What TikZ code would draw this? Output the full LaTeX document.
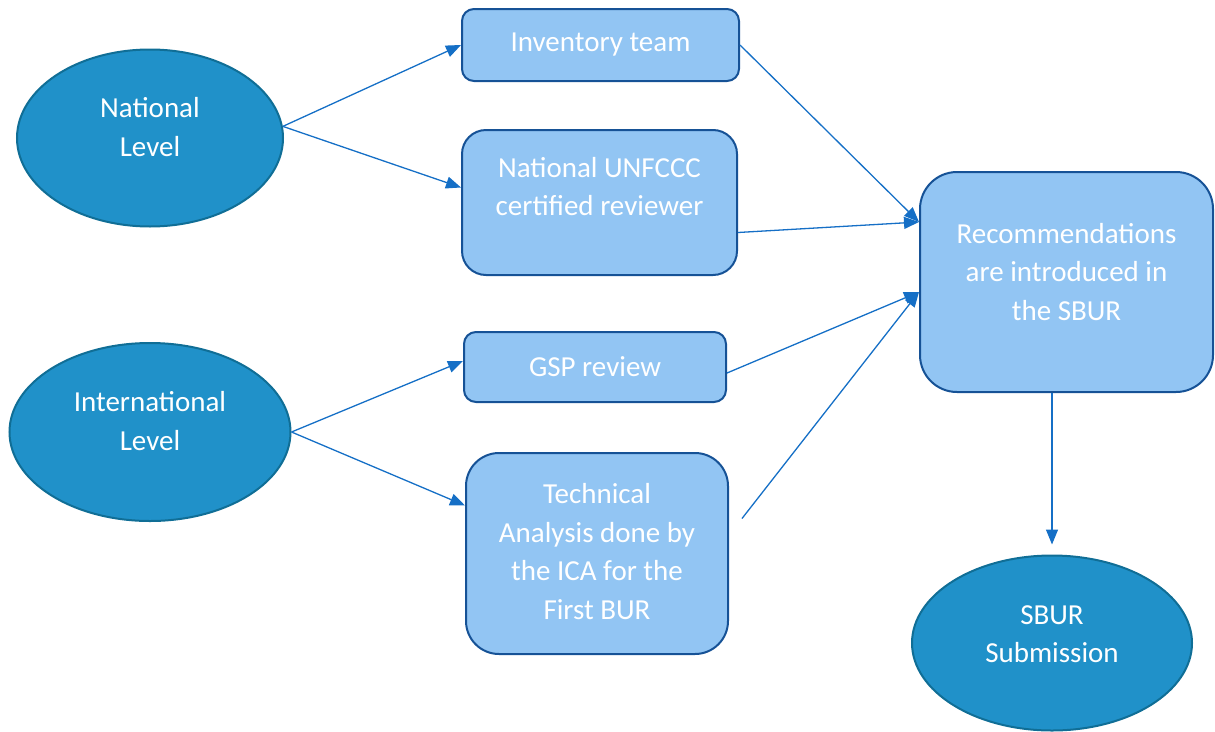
\documentclass[tikz,border=0pt]{standalone}
\usepackage{fontspec}
\setmainfont{Carlito}
\usetikzlibrary{positioning}
\usetikzlibrary{shapes.geometric}
\usetikzlibrary{arrows.meta}
\definecolor{levelfill}{RGB}{32,145,201}
\definecolor{leveldraw}{RGB}{16,110,150}
\definecolor{stagefill}{RGB}{146,197,243}
\definecolor{stagedraw}{RGB}{22,82,150}
\definecolor{flowline}{RGB}{21,111,198}
\tikzset{every node/.style={ % Sets the properties for each node and label
           align=center,
           text=white,
           font=\fontsize{29}{38.5}\selectfont},
         level/.style={ % Ellipses for the levels and the submission
           ellipse, draw=leveldraw, fill=levelfill,
           line width=2pt, inner sep=0pt},
         stage/.style={ % Boxes for the review steps
           rectangle, draw=stagedraw, fill=stagefill,
           line width=2pt, inner sep=0pt},
         every edge/.style={ % Sets the properties for each connector
           draw=flowline, line width=1.3pt,
           -{Triangle[length=15pt,width=12pt]}}}

\begin{document}
\begin{tikzpicture}[x=1pt, y=-1pt] % one unit is one pixel, y going down
  \useasboundingbox (0,0) rectangle (1215,731);

  \node [level, minimum width=266, minimum height=177,
    label={[yshift=11pt]center:National\\Level}] (national) at (150,138) {};
  \node [level, minimum width=281, minimum height=178,
    label={[yshift=11pt]center:International\\Level}] (intl) at (150,432) {};

  \node [stage, minimum width=277, minimum height=72, rounded corners=12pt,
    label={center:Inventory team}] (inventory) at (600.5,45) {};
  \node [stage, minimum width=275, minimum height=145, rounded corners=24pt,
    label={[yshift=16pt]center:National UNFCCC\\certified reviewer}] (unfccc) at (599.5,202.5) {};
  \node [stage, minimum width=262, minimum height=70, rounded corners=12pt,
    label={center:GSP review}] (gsp) at (595,367) {};
  \node [stage, minimum width=262, minimum height=201, rounded corners=33pt,
    label={[yshift=2pt]center:Technical\\Analysis done by\\the ICA for the\\First BUR}] (tech) at (597,553.5) {};

  \node [stage, minimum width=293, minimum height=220, rounded corners=37pt,
    label={[yshift=10pt]center:Recommendations\\are introduced in\\the SBUR}] (rec) at (1066.5,282) {};
  \node [level, minimum width=280, minimum height=175,
    label={[yshift=9pt]center:SBUR\\Submission}] (sbur) at (1052,643) {};

  \draw (national.5) edge (inventory.west);
  \draw (national.5) edge ([yshift=15pt]unfccc.west);

  \draw (intl.east) edge ([yshift=6pt]gsp.west);
  \draw (intl.east) edge ([yshift=48pt]tech.west);

  \draw (inventory.east) edge ([yshift=60pt]rec.west);
  \draw ([yshift=-30pt]unfccc.east) edge ([yshift=60pt]rec.west);
  \draw ([yshift=-6pt]gsp.east) edge ([yshift=-10pt]rec.west);
  \draw ([shift={(13pt,35pt)}]tech.east) edge ([yshift=-10pt]rec.west);

  \draw (rec.south -| sbur.north) edge ([yshift=10pt]sbur.north);
\end{tikzpicture}
\end{document}
